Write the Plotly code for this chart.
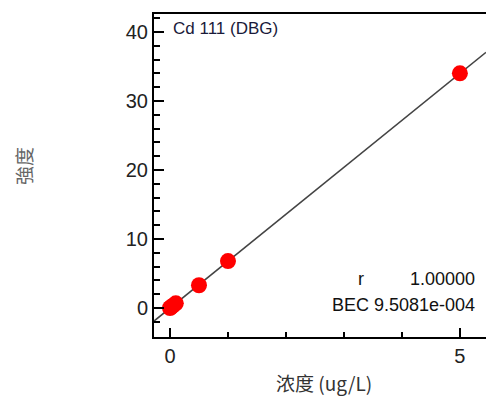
import numpy as np
import plotly.graph_objects as go

conc = [0.0, 0.02, 0.05, 0.1, 0.5, 1.0, 5.0]
intensity = [0.0, 0.14, 0.34, 0.68, 3.3, 6.8, 34.0]
x_range = [-0.276, 5.45]
y_range = [-4.2, 42.6]
title_text = "Cd 111 (DBG)"
r_label = "r"
r_value = "1.00000"
bec_text = "BEC 9.5081e-004"
x_title = "浓度 (ug/L)"
y_title = "強度"

slope, intercept = np.polyfit(conc, intensity, 1)
fit_x = np.array(x_range)
fit_y = slope * fit_x + intercept

fig = go.Figure()
fig.add_trace(go.Scatter(x=fit_x, y=fit_y, mode="lines",
                         line=dict(color="#444444", width=1.5), hoverinfo="skip"))
fig.add_trace(go.Scatter(x=conc, y=intensity, mode="markers",
                         marker=dict(color="#ff0000", size=16, line=dict(width=0))))

font_main = "Liberation Sans, Arial, sans-serif"
cjk = "Noto Sans CJK SC"
fig.update_layout(
    width=486, height=396,
    margin=dict(l=154, r=0, t=14, b=59),
    paper_bgcolor="white", plot_bgcolor="white",
    showlegend=False,
    font=dict(family=font_main, color="#222222"),
    xaxis=dict(range=x_range, showgrid=False, zeroline=False,
               showline=True, linecolor="black", linewidth=2, mirror=True,
               tickmode="array", tickvals=[0, 5], ticktext=["0", "5"],
               ticks="inside", ticklen=9, tickwidth=1.5, tickcolor="black",
               tickfont=dict(size=20, color="#222222"),
               minor=dict(tickmode="array", tickvals=[1, 2, 3, 4], ticks="inside",
                          ticklen=5, tickwidth=1.5, tickcolor="black")),
    yaxis=dict(range=y_range, showgrid=False, zeroline=False,
               showline=True, linecolor="black", linewidth=2,
               tickmode="array", tickvals=[0, 10, 20, 30, 40],
               ticks="inside", ticklen=10, tickwidth=1.5, tickcolor="black",
               tickfont=dict(size=20, color="#222222"),
               minor=dict(tickmode="array",
                          tickvals=[-2, 2, 4, 6, 8, 12, 14, 16, 18, 22, 24, 26, 28, 32, 34, 36, 38, 42],
                          ticks="inside", ticklen=6, tickwidth=1.5, tickcolor="black")),
)
fig.add_annotation(xref="paper", yref="paper", x=0.051, y=0.954, xanchor="left", yanchor="middle",
                   text=title_text, showarrow=False,
                   font=dict(size=17, color="#1a1a3a", family=font_main))
fig.add_annotation(xref="paper", yref="paper", x=0.607, y=0.18, xanchor="left", yanchor="middle",
                   text=r_label, showarrow=False,
                   font=dict(size=18, color="#111111", family=font_main))
fig.add_annotation(xref="paper", yref="paper", x=0.973, y=0.18, xanchor="right", yanchor="middle",
                   text=r_value, showarrow=False,
                   font=dict(size=18, color="#111111", family=font_main))
fig.add_annotation(xref="paper", yref="paper", x=0.973, y=0.099, xanchor="right", yanchor="middle",
                   text=bec_text, showarrow=False,
                   font=dict(size=18, color="#111111", family=font_main))
fig.add_annotation(xref="paper", yref="paper", x=0.512, y=-0.142, xanchor="center", yanchor="middle",
                   text=x_title, showarrow=False,
                   font=dict(size=19, color="#333333", family=cjk))
fig.add_annotation(xref="paper", yref="paper", x=-0.395, y=0.529, xanchor="center", yanchor="middle",
                   text=y_title, showarrow=False, textangle=-90,
                   font=dict(size=19, color="#666666", family=cjk))
fig.write_html("out.html")
